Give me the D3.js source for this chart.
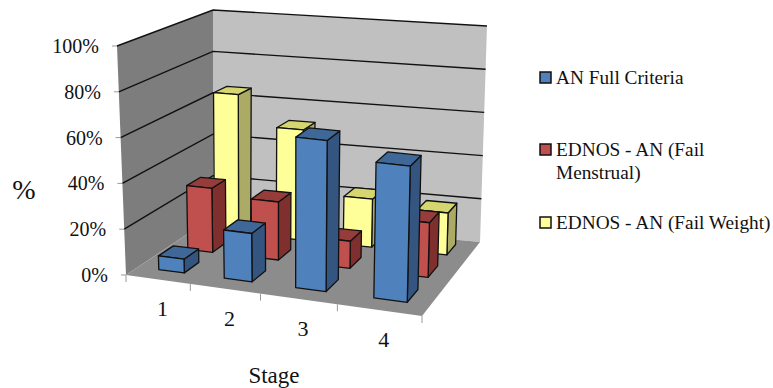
<!DOCTYPE html>
<html>
<head>
<script src="https://d3js.org/d3.v7.min.js"></script>
<style>
  html, body { margin: 0; padding: 0; background: #fff; }
  svg { display: block; }
  text { font-family: "Liberation Serif", serif; fill: #111; }
</style>
</head>
<body>
<div id="vis"></div>
<script>
const stages = ["1", "2", "3", "4"];
const seriesNames = ["EDNOS - AN (Fail Weight)", "EDNOS - AN (Fail Menstrual)", "AN Full Criteria"];
const failWeight = [65, 51, 22, 19];
const failMenstrual = [29, 26, 12, 24];
const fullCriteria = [6, 21, 65, 58];
const yTicks = [0, 20, 40, 60, 80, 100];

const width = 773, height = 388;
const svg = d3.select("#vis").append("svg").attr("width", width).attr("height", height);

// the plot box as seen on the page: [front-left, front-right, back-right, back-left]
const floorQuad = [[126, 275], [422, 316], [480, 242], [213, 217]];
// screen vector of a full 100% column standing on each of those corners
const riseQuad = [[-9, -229], [6, -238], [7, -216], [0, -207]];

// unit square -> quad (perspective)
function homography(q) {
    const [[x0, y0], [x1, y1], [x2, y2], [x3, y3]] = q;
    const dx1 = x1 - x2, dx2 = x3 - x2, sx = x0 - x1 + x2 - x3;
    const dy1 = y1 - y2, dy2 = y3 - y2, sy = y0 - y1 + y2 - y3;
    const det = dx1 * dy2 - dx2 * dy1;
    const g = (sx * dy2 - dx2 * sy) / det;
    const h = (dx1 * sy - sx * dy1) / det;
    const a = x1 - x0 + g * x1, b = x3 - x0 + h * x3;
    const d = y1 - y0 + g * y1, e = y3 - y0 + h * y3;
    return (u, v) => {
        const w = g * u + h * v + 1;
        return [(a * u + b * v + x0) / w, (d * u + e * v + y0) / w];
    };
}
const floorMap = homography(floorQuad);

const xScale = d3.scaleBand().domain(stages).range([0.008, 1.008]).paddingInner(0.6).paddingOuter(0.3);
const xCat = d3.scaleBand().domain(stages).range([0, 1]);
const zScale = d3.scaleBand().domain(seriesNames).range([1.01, 0.045]).paddingInner(0.5).paddingOuter(0.25);
const yScale = d3.scaleLinear().domain([0, 100]).range([0, 1]);

// u along the stages, v into the depth, value on the % axis
function project(u, v, value) {
    const p = floorMap(u, v), t = yScale(value);
    const rise = i => (1 - v) * ((1 - u) * riseQuad[0][i] + u * riseQuad[1][i])
        + v * ((1 - u) * riseQuad[3][i] + u * riseQuad[2][i]);
    return [p[0] + rise(0) * t, p[1] + rise(1) * t];
}
const line = d3.line();
const poly = pts => line(pts) + "Z";

// walls and floor
const walls = svg.append("g");
walls.append("path").attr("fill", "#7d7d7d")
    .attr("d", poly([project(0, 0, 0), project(0, 0, 100), project(0, 1, 100), project(0, 1, 0)]));
walls.append("path").attr("fill", "#c0c0c0")
    .attr("d", poly([project(0, 1, 0), project(0, 1, 100), project(1, 1, 100), project(1, 1, 0)]));
walls.append("path").attr("fill", "#8c8c8c")
    .attr("d", poly([project(0, 0, 0), project(1, 0, 0), project(1, 1, 0), project(0, 1, 0)]));

// gridlines
walls.selectAll(".grid").data(yTicks.filter(d => d > 0)).join("path")
    .attr("class", "grid").attr("fill", "none").attr("stroke", "#111").attr("stroke-width", 1.4)
    .attr("d", d => line([project(0, 0, d), project(0, 1, d), project(1, 1, d)]));

// axis ticks
walls.selectAll(".ytick").data(yTicks).join("path")
    .attr("class", "ytick").attr("stroke", "#999").attr("fill", "none")
    .attr("d", d => {
        const p = project(0, 0, d);
        return line([[p[0] - 5, p[1]], p]);
    });
walls.selectAll(".xtick").data([0, ...stages.map(s => xCat(s) + xCat.bandwidth())]).join("path")
    .attr("class", "xtick").attr("stroke", "#999").attr("fill", "none")
    .attr("d", d => {
        const p = project(d, 0, 0);
        return line([p, [p[0], p[1] + 7]]);
    });

// bars, back row first
const colors = {
    "AN Full Criteria": { front: "#4f81bd", side: "#33557f", top: "#3f6797" },
    "EDNOS - AN (Fail Menstrual)": { front: "#c0504d", side: "#7f302e", top: "#963c3a" },
    "EDNOS - AN (Fail Weight)": { front: "#ffff99", side: "#abab66", top: "#d6d670" }
};
const rows = [failWeight, failMenstrual, fullCriteria];
const bars = svg.append("g").attr("stroke", "#111").attr("stroke-width", 1.3).attr("stroke-linejoin", "round");
seriesNames.forEach((name, i) => {
    const z0 = zScale(name), z1 = z0 + zScale.bandwidth();
    const c = colors[name];
    const row = bars.append("g");
    const cells = stages.map((s, j) => ({ s, v: rows[i][j] }));
    const g = row.selectAll("g").data(cells).join("g");
    g.append("path").attr("fill", c.side).attr("d", d => {
        const x1 = xScale(d.s) + xScale.bandwidth();
        return poly([project(x1, z0, 0), project(x1, z1, 0), project(x1, z1, d.v), project(x1, z0, d.v)]);
    });
    g.append("path").attr("fill", c.top).attr("d", d => {
        const x0 = xScale(d.s), x1 = x0 + xScale.bandwidth();
        return poly([project(x0, z0, d.v), project(x1, z0, d.v), project(x1, z1, d.v), project(x0, z1, d.v)]);
    });
    g.append("path").attr("fill", c.front).attr("d", d => {
        const x0 = xScale(d.s), x1 = x0 + xScale.bandwidth();
        return poly([project(x0, z0, 0), project(x1, z0, 0), project(x1, z0, d.v), project(x0, z0, d.v)]);
    });
});

// labels
svg.selectAll(".ylabel").data(yTicks).join("text")
    .attr("class", "ylabel").attr("text-anchor", "end").attr("font-size", 20)
    .attr("x", d => project(0, 0, d)[0] - 18)
    .attr("y", d => project(0, 0, d)[1] + 7)
    .text(d => d + "%");
svg.selectAll(".xlabel").data(stages).join("text")
    .attr("class", "xlabel").attr("text-anchor", "middle").attr("font-size", 22)
    .attr("x", d => project(xCat(d) + xCat.bandwidth() / 2, 0, 0)[0] + 5)
    .attr("y", d => project(xCat(d) + xCat.bandwidth() / 2, 0, 0)[1] + 37)
    .text(d => d);
svg.append("text").attr("x", 24).attr("y", 199).attr("text-anchor", "middle").attr("font-size", 28).text("%");
svg.append("text").attr("x", 274).attr("y", 383).attr("text-anchor", "middle").attr("font-size", 23).text("Stage");

// legend
const legendItems = [
    { name: "AN Full Criteria", lines: ["AN Full Criteria"], y: 78 },
    { name: "EDNOS - AN (Fail Menstrual)", lines: ["EDNOS - AN (Fail", "Menstrual)"], y: 150 },
    { name: "EDNOS - AN (Fail Weight)", lines: ["EDNOS - AN (Fail Weight)"], y: 223 }
];
const legend = svg.selectAll(".legend").data(legendItems).join("g")
    .attr("class", "legend").attr("transform", d => `translate(540,${d.y})`);
legend.append("rect").attr("x", 0).attr("y", -6).attr("width", 11).attr("height", 11)
    .attr("fill", d => colors[d.name].front).attr("stroke", "#111").attr("stroke-width", 1.5);
legend.selectAll("text").data(d => d.lines).join("text")
    .attr("x", 16).attr("y", (d, i) => 6 + i * 23).attr("font-size", 19.3).text(d => d);
</script>
</body>
</html>
